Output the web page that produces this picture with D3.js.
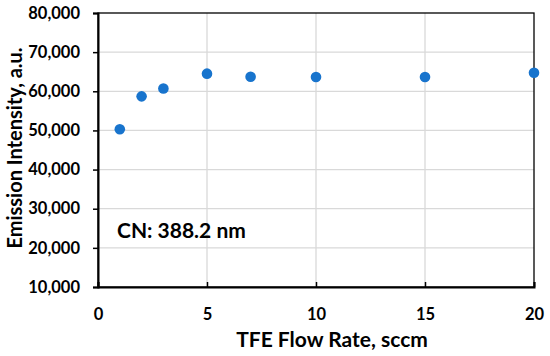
<!DOCTYPE html>
<html><head><meta charset="utf-8">
<script src="https://cdn.jsdelivr.net/npm/d3@7"></script>
<style>body{margin:0;background:#fff}svg{display:block}</style>
</head><body>
<svg id="c" width="550" height="356"></svg>
<script>
const flowRate = [1, 2, 3, 5, 7, 10, 15, 20];
const intensity = [50300, 58700, 60700, 64500, 63700, 63650, 63650, 64750];
const xTicks = [0, 5, 10, 15, 20];
const yTicks = [10000, 20000, 30000, 40000, 50000, 60000, 70000, 80000];
const xTitle = "TFE Flow Rate, sccm";
const yTitle = "Emission Intensity, a.u.";
const note = "CN: 388.2 nm";

const font = "Lato, 'Open Sans', sans-serif";
const m = {l: 98, t: 13, r: 534, b: 287};
const svg = d3.select("#c");
const x = d3.scaleLinear().domain([0, 20]).range([m.l, m.r]);
const y = d3.scaleLinear().domain([10000, 80000]).range([m.b, m.t]);

// gridlines
svg.append("g").selectAll("line").data(yTicks.slice(1, -1)).join("line")
  .attr("x1", m.l).attr("x2", m.r).attr("y1", d => y(d)).attr("y2", d => y(d))
  .attr("stroke", "#d9d9d9").attr("stroke-width", 1.3);
svg.append("g").selectAll("line").data(xTicks.slice(1, -1)).join("line")
  .attr("y1", m.t).attr("y2", m.b).attr("x1", d => x(d)).attr("x2", d => x(d))
  .attr("stroke", "#d9d9d9").attr("stroke-width", 1.3);

// frame
svg.append("rect").attr("x", m.l).attr("y", m.t).attr("width", m.r - m.l).attr("height", m.b - m.t)
  .attr("fill", "none").attr("stroke", "#000").attr("stroke-width", 1.3);

// axes
const yAxis = d3.axisLeft(y).tickValues(yTicks).tickSize(5).tickPadding(13)
  .tickFormat(d3.format(","));
const gy = svg.append("g").attr("transform", `translate(${m.l},0)`).call(yAxis);
gy.select(".domain").attr("stroke-width", 2);
gy.selectAll(".tick line").attr("stroke-width", 1.5);
gy.selectAll("text").style("font-family", font).style("font-weight", "bold").style("font-size", "16.5px").attr("fill", "#000");

const xAxis = d3.axisBottom(x).tickValues(xTicks).tickSize(-5).tickPadding(21);
const gx = svg.append("g").attr("transform", `translate(0,${m.b})`).call(xAxis);
gx.select(".domain").attr("stroke-width", 2);
gx.selectAll(".tick line").attr("stroke-width", 1.5);
gx.selectAll("text").style("font-family", font).style("font-weight", "bold").style("font-size", "16.5px").attr("fill", "#000");

// points
svg.append("g").selectAll("circle").data(flowRate.map((f, i) => [f, intensity[i]])).join("circle")
  .attr("cx", d => x(d[0])).attr("cy", d => y(d[1])).attr("r", 5.3).attr("fill", "#1874cd");

// titles
svg.append("text").attr("x", 332).attr("y", 347).attr("text-anchor", "middle")
  .style("font-family", font).style("font-weight", "bold").style("font-size", "21px").text(xTitle);
svg.append("text").attr("transform", `translate(22,148) rotate(-90)`).attr("text-anchor", "middle")
  .style("font-family", font).style("font-weight", "bold").style("font-size", "20px").text(yTitle);
svg.append("text").attr("x", 117).attr("y", 237.5)
  .style("font-family", font).style("font-weight", "bold").style("font-size", "21px").text(note);
</script>
</body></html>
